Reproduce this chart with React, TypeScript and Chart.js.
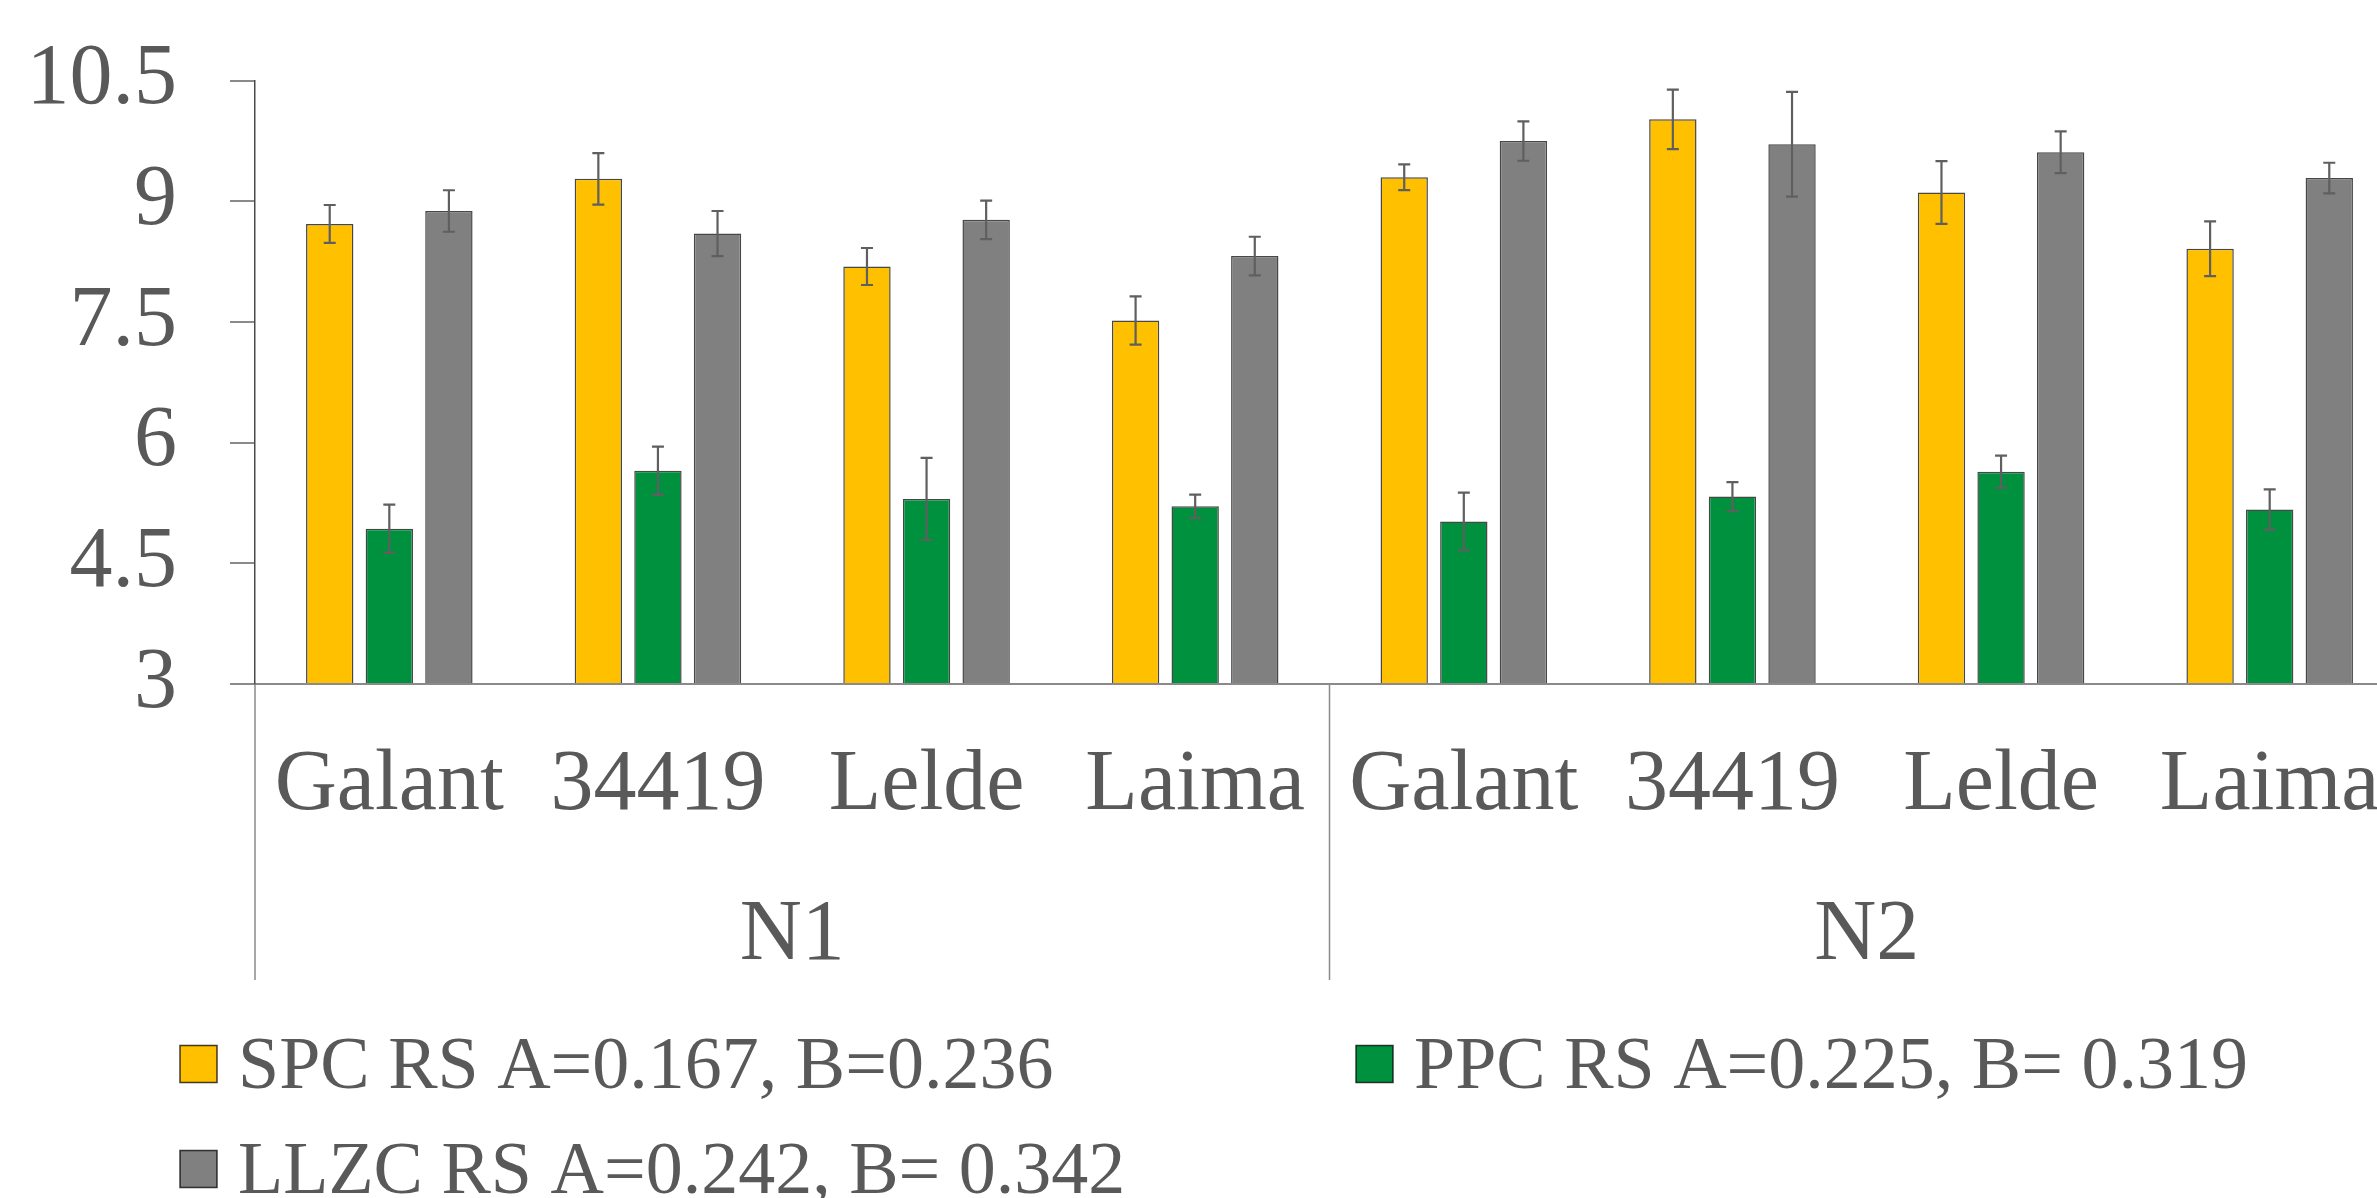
import React, { useEffect, useRef } from 'react';
import { Chart, registerables } from 'chart.js';

Chart.register(...registerables);

const categories = ['Galant', '34419', 'Lelde', 'Laima', 'Galant', '34419', 'Lelde', 'Laima'];
const groups = ['N1', 'N2'];
const seriesLabels = ['SPC RS A=0.167, B=0.236', 'PPC RS A=0.225, B= 0.319', 'LLZC RS A=0.242, B= 0.342'];
const spcValues = [8.72, 9.28, 8.19, 7.52, 9.3, 10.02, 9.11, 8.41];
const spcErrors = [0.235, 0.32, 0.23, 0.3, 0.16, 0.37, 0.39, 0.34];
const ppcValues = [4.93, 5.65, 5.3, 5.21, 5.02, 5.33, 5.64, 5.17];
const ppcErrors = [0.3, 0.3, 0.51, 0.145, 0.36, 0.18, 0.2, 0.25];
const llzcValues = [8.88, 8.6, 8.77, 8.32, 9.75, 9.71, 9.61, 9.29];
const llzcErrors = [0.258, 0.28, 0.24, 0.24, 0.245, 0.65, 0.26, 0.19];
const yTicks = [3, 4.5, 6, 7.5, 9, 10.5];

const FONT = "'Liberation Serif', 'Times New Roman', Times, serif";
const TEXT = '#595959';
const colors = ['#FFC000', '#00913F', '#808080'];

export default function App() {
  const ref = useRef<HTMLCanvasElement>(null);

  useEffect(() => {
    if (!ref.current) return;
    const errorSets = [spcErrors, ppcErrors, llzcErrors];

    const errorBars = {
      id: 'errorBars',
      afterDatasetsDraw(chart: any) {
        const ctx = chart.ctx;
        const y = chart.scales.y;
        ctx.save();
        ctx.strokeStyle = '#5f5f5f';
        ctx.lineWidth = 2.2;
        chart.data.datasets.forEach((ds: any, di: number) => {
          const meta = chart.getDatasetMeta(di);
          meta.data.forEach((el: any, i: number) => {
            const v = ds.data[i];
            const e = errorSets[di][i];
            const top = y.getPixelForValue(v + e);
            const bot = y.getPixelForValue(v - e);
            const x = el.x;
            const cap = 6;
            ctx.beginPath();
            ctx.moveTo(x, top);
            ctx.lineTo(x, bot);
            ctx.moveTo(x - cap, top);
            ctx.lineTo(x + cap, top);
            ctx.moveTo(x - cap, bot);
            ctx.lineTo(x + cap, bot);
            ctx.stroke();
          });
        });
        ctx.restore();
      },
    };

    const extras = {
      id: 'extras',
      afterDraw(chart: any) {
        const ctx = chart.ctx;
        const xs = chart.scales.x;
        const area = chart.chartArea;
        const lowY = 980;
        ctx.save();
        ctx.strokeStyle = '#8a8a8a';
        ctx.lineWidth = 1.5;
        const per = categories.length / groups.length;
        const step = xs.getPixelForValue(1) - xs.getPixelForValue(0);
        const bounds: number[] = [];
        for (let g = 0; g <= groups.length; g++) {
          const idx = g * per;
          let px: number;
          if (idx === 0) px = area.left;
          else if (idx >= categories.length) px = xs.getPixelForValue(categories.length - 1) + step / 2;
          else px = (xs.getPixelForValue(idx - 1) + xs.getPixelForValue(idx)) / 2;
          bounds.push(px);
          ctx.beginPath();
          ctx.moveTo(px, area.bottom);
          ctx.lineTo(px, lowY);
          ctx.stroke();
        }
        ctx.fillStyle = TEXT;
        ctx.font = `86px ${FONT}`;
        ctx.textAlign = 'center';
        ctx.textBaseline = 'alphabetic';
        groups.forEach((g, gi) => {
          const cx = (bounds[gi] + bounds[gi + 1]) / 2;
          ctx.fillText(g, cx, 959);
        });
        const pos = [
          { x: 180, y: 1064 },
          { x: 1356, y: 1064 },
          { x: 180, y: 1169 },
        ];
        ctx.textAlign = 'left';
        ctx.font = `74px ${FONT}`;
        chart.data.datasets.forEach((ds: any, i: number) => {
          const p = pos[i];
          const s = 37;
          ctx.fillStyle = ds.backgroundColor;
          ctx.fillRect(p.x, p.y - s / 2, s, s);
          ctx.strokeStyle = 'rgba(0,0,0,0.75)';
          ctx.lineWidth = 1.5;
          ctx.strokeRect(p.x, p.y - s / 2, s, s);
          ctx.fillStyle = TEXT;
          ctx.fillText(ds.label, p.x + 58, p.y + 24);
        });
        ctx.restore();
      },
    };

    const mk = (label: string, data: number[], color: string) => ({
      label,
      data,
      backgroundColor: color,
      borderColor: 'rgba(0,0,0,0.72)',
      borderWidth: 1.5,
      base: 3,
      categoryPercentage: 0.6655,
      barPercentage: 0.795,
    });

    const chart = new Chart(ref.current, {
      type: 'bar',
      data: {
        labels: categories,
        datasets: [
          mk(seriesLabels[0], spcValues, colors[0]),
          mk(seriesLabels[1], ppcValues, colors[1]),
          mk(seriesLabels[2], llzcValues, colors[2]),
        ],
      },
      options: {
        responsive: false,
        animation: false,
        devicePixelRatio: 1,
        layout: { padding: { left: 0, top: 80.7, right: 16, bottom: 0 } },
        plugins: {
          legend: { display: false },
          tooltip: { enabled: false },
          title: { display: false },
        },
        scales: {
          x: {
            type: 'category',
            offset: true,
            grid: { display: false, drawTicks: false, tickLength: 0 },
            border: { display: true, color: '#8a8a8a', width: 2 },
            ticks: {
              color: TEXT,
              font: { family: FONT, size: 86 },
              padding: 51,
              maxRotation: 0,
              minRotation: 0,
              autoSkip: false,
            },
            afterFit: (scale: any) => {
              scale.height = 514;
              scale.paddingLeft = 0;
              scale.paddingRight = 0;
            },
          },
          y: {
            type: 'linear',
            min: 3,
            max: 10.5,
            afterBuildTicks: (scale: any) => {
              scale.ticks = yTicks.map((v) => ({ value: v }));
            },
            grid: {
              display: true,
              drawOnChartArea: false,
              drawTicks: true,
              tickLength: 25,
              color: '#8a8a8a',
              lineWidth: 2,
            },
            border: { display: true, color: '#4a4a4a', width: 1.5 },
            ticks: {
              color: TEXT,
              font: { family: FONT, size: 86 },
              padding: 53,
              callback: (v: any) => String(v),
            },
            afterFit: (scale: any) => {
              scale.width = 255;
              scale.paddingTop = 0;
              scale.paddingBottom = 0;
            },
          },
        },
      },
      plugins: [errorBars, extras],
    });

    return () => chart.destroy();
  }, []);

  return (
    <div
      style={{
        position: 'fixed',
        left: 0,
        top: 0,
        width: 2377,
        height: 1198,
        overflow: 'hidden',
        background: '#ffffff',
      }}
    >
      <canvas ref={ref} width={2420} height={1198} style={{ display: 'block', width: 2420, height: 1198 }} />
    </div>
  );
}
